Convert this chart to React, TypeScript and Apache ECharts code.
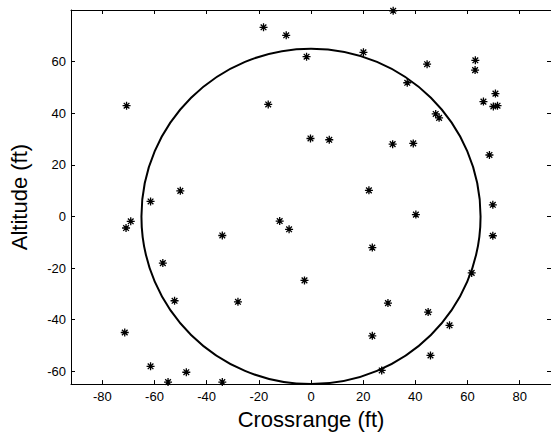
import React, { useEffect, useRef } from "react";
import * as echarts from "echarts";

// Scatter points (ft)
const crossrange = [
  -70.7, -50.1, -18.2, -9.5, -1.7, 20.1, -16.4, -0.2, 7.0, 22.2,
  31.3, 31.5, 44.5, 36.9, 63.0, 62.9, 70.7, 66.1, 69.9, 71.5,
  47.8, 49.1, 39.2, 68.4, -61.5, -69.1, -70.9, -34.0, -56.8, -52.3,
  -71.4, -61.5, -47.8, -54.8, -34.0, -12.0, -8.4, 23.5, -2.5, -28.0,
  29.5, 23.5, 27.1, 40.2, 69.7, 69.7, 61.6, 44.9, 53.1, 45.8,
];
const altitude = [
  42.9, 9.9, 73.3, 70.2, 61.9, 63.6, 43.4, 30.2, 29.7, 10.1,
  28.0, 79.7, 59.0, 51.8, 60.5, 56.7, 47.6, 44.5, 42.6, 42.9,
  39.7, 38.2, 28.3, 23.8, 5.8, -1.9, -4.5, -7.4, -18.1, -32.7,
  -45.0, -58.1, -60.4, -64.2, -64.2, -1.8, -5.0, -12.1, -24.8, -33.1,
  -33.6, -46.3, -59.7, 0.7, 4.5, -7.5, -21.9, -37.1, -42.2, -53.9,
];

// Reference circle
const circleCenter = [0, 0];
const circleRadius = 65;

// Axis ranges and ticks
const xRange = [-92, 92];
const yRange = [-65, 80];
const xTicks = [-80, -60, -40, -20, 0, 20, 40, 60, 80];
const yTicks = [-60, -40, -20, 0, 20, 40, 60];

const FONT = "'Liberation Sans', Arial, Helvetica, sans-serif";
const ASTERISK = "path://M0 5H10M5 0V10M1.46 1.46L8.54 8.54M1.46 8.54L8.54 1.46";

export default function App() {
  const ref = useRef<HTMLDivElement>(null);

  useEffect(() => {
    if (!ref.current) return;
    const chart = echarts.init(ref.current, undefined, { renderer: "svg" });

    const axisLine = { show: true, onZero: false, lineStyle: { color: "#000", width: 1 } };
    const tick = (vals: number[]) => ({
      show: true,
      inside: true,
      length: 4,
      customValues: vals,
      lineStyle: { color: "#000", width: 1 },
    });

    const points = crossrange.map((x, i) => [x, altitude[i]]);

    chart.setOption({
      animation: false,
      backgroundColor: "#fff",
      grid: { left: 69, top: 10, width: 483, height: 381, containLabel: false },
      xAxis: [
        {
          type: "value",
          position: "bottom",
          min: xRange[0],
          max: xRange[1],
          axisLine,
          axisTick: tick(xTicks),
          splitLine: { show: false },
          axisLabel: {
            customValues: xTicks,
            color: "#000",
            fontSize: 13,
            fontFamily: FONT,
            margin: 6,
          },
          name: "Crossrange (ft)",
          nameLocation: "middle",
          nameGap: 20,
          nameTextStyle: { color: "#000", fontSize: 22, fontFamily: FONT },
        },
        {
          type: "value",
          position: "top",
          min: xRange[0],
          max: xRange[1],
          axisLine,
          axisTick: tick(xTicks),
          splitLine: { show: false },
          axisLabel: { show: false },
        },
      ],
      yAxis: [
        {
          type: "value",
          position: "left",
          min: yRange[0],
          max: yRange[1],
          axisLine,
          axisTick: tick(yTicks),
          splitLine: { show: false },
          axisLabel: {
            customValues: yTicks,
            color: "#000",
            fontSize: 13,
            fontFamily: FONT,
            margin: 5,
          },
          name: "Altitude (ft)",
          nameLocation: "middle",
          nameGap: 41,
          nameRotate: 90,
          nameTextStyle: { color: "#000", fontSize: 22, fontFamily: FONT },
        },
        {
          type: "value",
          position: "right",
          min: yRange[0],
          max: yRange[1],
          axisLine,
          axisTick: tick(yTicks),
          splitLine: { show: false },
          axisLabel: { show: false },
        },
      ],
      series: [
        {
          type: "custom",
          xAxisIndex: 0,
          yAxisIndex: 0,
          silent: true,
          data: [[circleCenter[0], circleCenter[1], circleRadius]],
          encode: { x: 0, y: 1 },
          renderItem: (_params: any, api: any) => {
            const c = api.coord([api.value(0), api.value(1)]);
            const r = api.value(2);
            const rx = api.size([r, 0])[0];
            const ry = api.size([0, r])[1];
            return {
              type: "ellipse",
              shape: { cx: c[0], cy: c[1], rx, ry },
              style: { fill: "none", stroke: "#000", lineWidth: 2 },
            };
          },
          z: 2,
        },
        {
          type: "scatter",
          xAxisIndex: 0,
          yAxisIndex: 0,
          data: points,
          symbol: ASTERISK,
          symbolSize: 8,
          itemStyle: { color: "rgba(0,0,0,0)", borderColor: "#000", borderWidth: 1.3, opacity: 1 },
          z: 3,
        },
      ],
    });

    return () => chart.dispose();
  }, []);

  return (
    <div
      ref={ref}
      style={{ position: "absolute", left: 0, top: 0, width: 551, height: 435, background: "#fff" }}
    />
  );
}
